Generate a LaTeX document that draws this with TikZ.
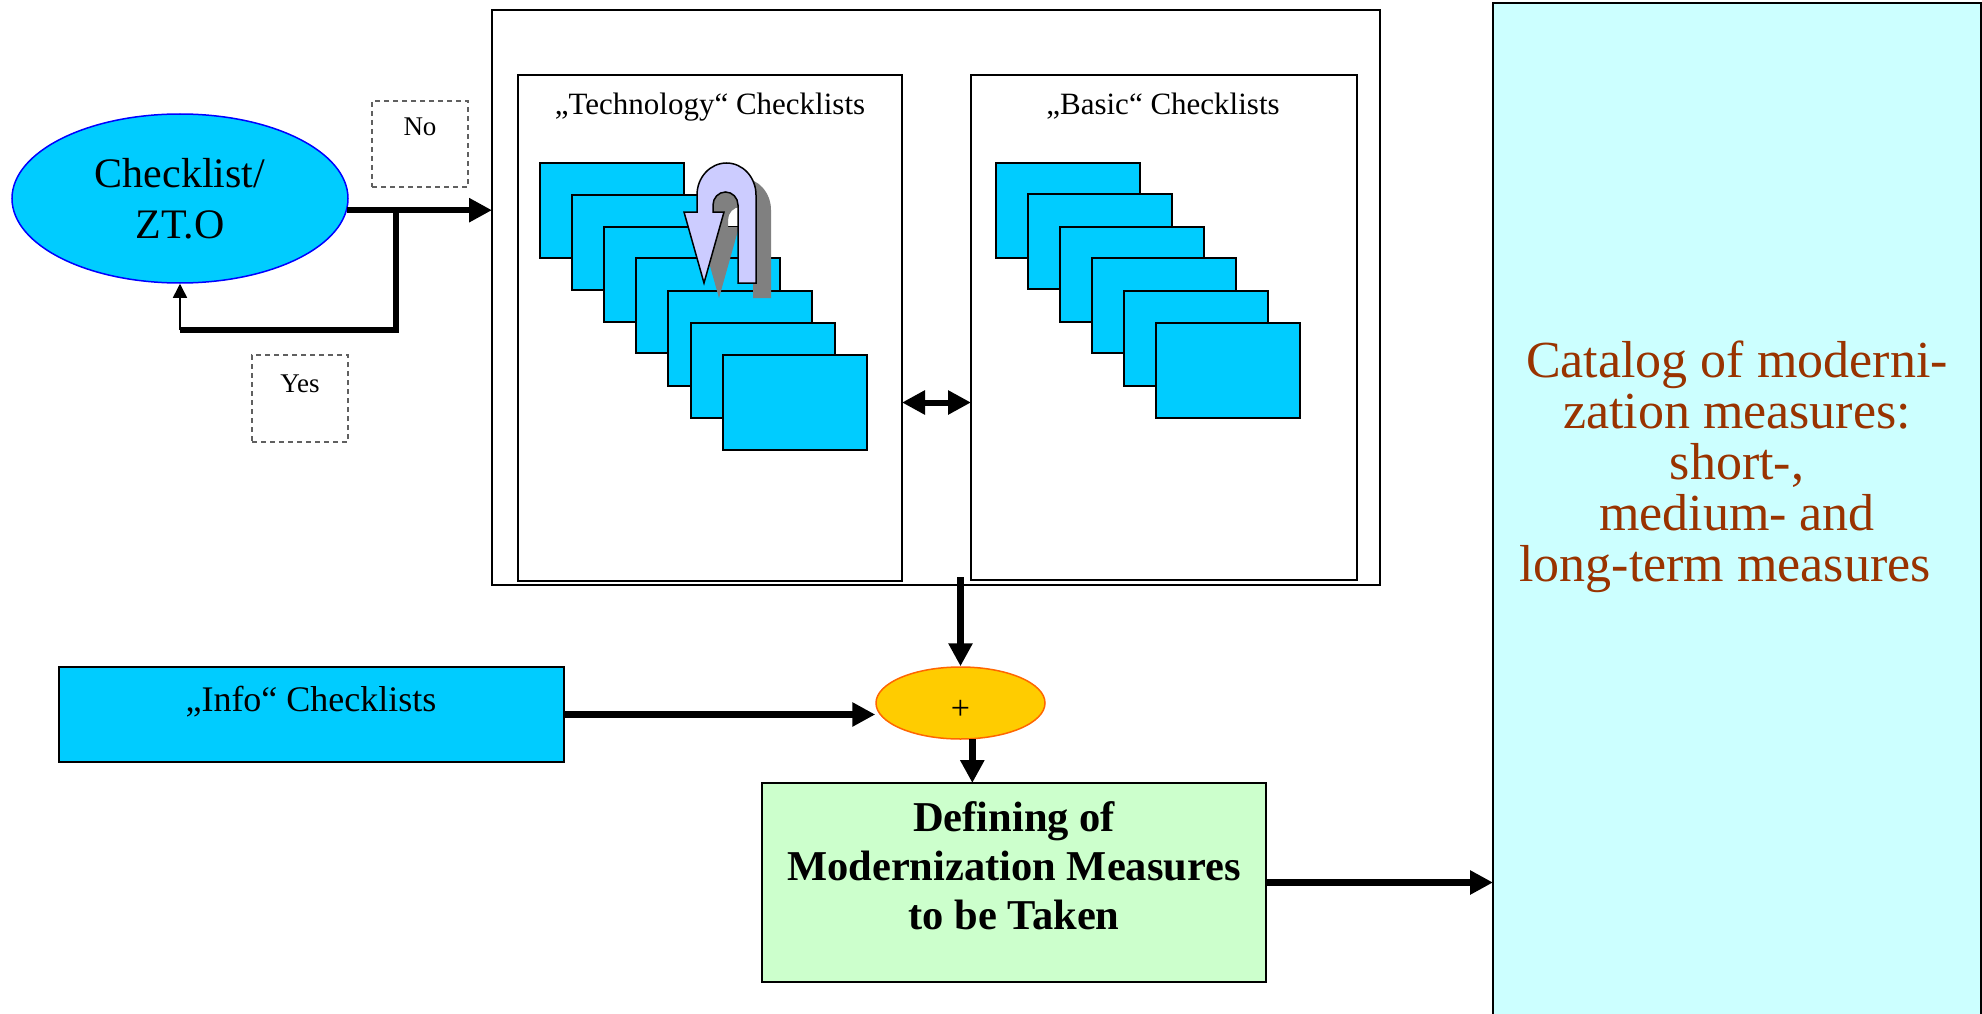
\documentclass[tikz,border=0pt]{standalone}
\usepackage{fontspec}
\setmainfont{Liberation Serif}
\usetikzlibrary{arrows.meta,shapes.geometric,calc}
\definecolor{cyanfill}{HTML}{00CCFF}
\definecolor{ellblue}{HTML}{0000FF}
\definecolor{plusfill}{HTML}{FFCC00}
\definecolor{plusdraw}{HTML}{FF6600}
\definecolor{greenfill}{HTML}{CCFFCC}
\definecolor{catfill}{HTML}{CCFFFF}
\definecolor{cattext}{HTML}{993300}
\definecolor{lavender}{HTML}{CCCCFF}
\definecolor{shadowgray}{HTML}{808080}
\definecolor{dashgray}{HTML}{606060}
\begin{document}
\begin{tikzpicture}[x=1pt,y=-1pt,
  plainbox/.style={draw, anchor=north west, inner sep=0pt, outer sep=0pt},
  sheet/.style={plainbox, fill=cyanfill, line width=1.5pt, minimum width=144pt, minimum height=95pt},
  dashbox/.style={plainbox, draw=dashgray, line width=1.2pt, dash pattern=on 5pt off 4pt},
  txt/.style={inner sep=0pt, outer sep=0pt, anchor=base},
  conn/.style={line width=6.5pt, -{Triangle[length=23pt,width=23pt]}},
  dblconn/.style={line width=6pt, {Triangle[length=23pt,width=23pt]}-{Triangle[length=23pt,width=23pt]}},
  thinconn/.style={line width=1.5pt, -{Triangle[length=14pt,width=14pt]}},
  thickline/.style={line width=6.5pt, line join=miter}]
\useasboundingbox (0,0) rectangle (1982,1014);
\fill[white] (0,0) rectangle (1982,1014);

% outer frame and the two checklist panels
\node[plainbox, line width=1.5pt, minimum width=888pt, minimum height=575pt] (outer) at (492,10) {};
\node[plainbox, line width=2pt, minimum width=384pt, minimum height=506pt] (tech) at (518,75) {};
\node[plainbox, line width=2pt, minimum width=386pt, minimum height=505pt] (basic) at (971,75) {};
\node[txt, font=\fontsize{31}{36}\selectfont] (techtitle) at (710,115) {„Technology“ Checklists};
\node[txt, font=\fontsize{31}{36}\selectfont] (basictitle) at (1163,115) {„Basic“ Checklists};

% technology stack
\node[sheet] (t1) at (540,163) {};
\node[sheet] (t2) at (572,195) {};
\node[sheet] (t3) at (604,227) {};
\node[sheet] (t4) at (636,258) {};
\node[sheet] (t5) at (668,291) {};
\node[sheet] (t6) at (691,323) {};
\node[sheet] (t7) at (723,355) {};

% basic stack
\node[sheet] (b1) at (996,163) {};
\node[sheet] (b2) at (1028,194) {};
\node[sheet] (b3) at (1060,227) {};
\node[sheet] (b4) at (1092,258) {};
\node[sheet] (b5) at (1124,291) {};
\node[sheet] (b6) at (1156,323) {};

% U-turn arrow with shadow
\fill[shadowgray, shift={(15,15)}] (756,283) -- (756,195) .. controls (756,177.3) and (742.8,163) .. (726.5,163) .. controls (710.2,163) and (697,177.3) .. (697,195) -- (697,212) -- (684,212) -- (704,283) -- (724,212) -- (713,212) -- (713,205) .. controls (713,197.8) and (718.6,192) .. (725.5,192) .. controls (732.4,192) and (738,197.8) .. (738,205) -- (738,283) -- cycle;
\filldraw[fill=lavender, draw=black, line width=1.5pt, line join=miter] (756,283) -- (756,195) .. controls (756,177.3) and (742.8,163) .. (726.5,163) .. controls (710.2,163) and (697,177.3) .. (697,195) -- (697,212) -- (684,212) -- (704,283) -- (724,212) -- (713,212) -- (713,205) .. controls (713,197.8) and (718.6,192) .. (725.5,192) .. controls (732.4,192) and (738,197.8) .. (738,205) -- (738,283) -- cycle;

% checklist ellipse and yes/no labels
\node[ellipse, draw=ellblue, fill=cyanfill, line width=1.5pt, minimum width=336pt, minimum height=169pt, inner sep=0pt, align=center, font=\fontsize{42}{51}\selectfont] (ell) at (180,198.5) {Checklist/\\ZT.O};
\node[dashbox, minimum width=96pt, minimum height=86pt] (nobox) at (372,101) {};
\node[txt, font=\fontsize{27}{30}\selectfont] (notext) at (420,136) {No};
\node[dashbox, minimum width=96pt, minimum height=87pt] (yesbox) at (252,355) {};
\node[txt, font=\fontsize{27}{30}\selectfont] (yestext) at (300,392) {Yes};

% info box, plus, green box, catalog
\node[plainbox, fill=cyanfill, line width=2pt, minimum width=505pt, minimum height=95pt] (info) at (59,667) {};
\node[txt, font=\fontsize{36}{40}\selectfont] (infotext) at (311,711) {„Info“ Checklists};
\node[ellipse, draw=plusdraw, fill=plusfill, line width=1.5pt, minimum width=169pt, minimum height=72pt, inner sep=0pt] (plus) at (960.5,703) {};
\node[inner sep=0pt, outer sep=0pt, font=\fontsize{34}{36}\selectfont] (plussign) at (960.5,710) {+};
\node[plainbox, fill=greenfill, line width=2pt, minimum width=504pt, minimum height=199pt] (green) at (762,783) {};
\node[txt, align=center, font=\bfseries\fontsize{42.5}{49}\selectfont] (greentext) at (1014,929) {Defining of\\Modernization Measures\\to be Taken};
\node[plainbox, fill=catfill, line width=2pt, minimum width=488pt, minimum height=1030pt] (cat) at (1493,3) {};
\node[txt, align=center, text=cattext, font=\fontsize{52}{51}\selectfont] (cattext) at (1737,581) {Catalog of moderni-\\zation measures:\\short-,\\medium- and\\long-term measures\hspace*{24pt}};

% connectors
\coordinate (split) at (396,211);
\coordinate (corner) at (396,330);
\draw[conn] (ell.-4.3) -- (ell.-4.3 -| outer.west);
\draw[thickline] (split) -- (corner) -- (corner -| ell.south);
\draw[thinconn] (corner -| ell.south) -- (ell.south);
\draw[dblconn] (tech.east |- t7.center) -- (basic.west |- t7.center);
\draw[conn] ($(plus.north |- outer.south)+(0,-8)$) -- (plus.north);
\draw[conn] (info.east) -- (info.east -| plus.west);
\draw[conn] (plus.-72) -- (plus.-72 |- green.north);
\draw[conn] (green.east) -- (green.east -| cat.west);
\end{tikzpicture}
\end{document}
